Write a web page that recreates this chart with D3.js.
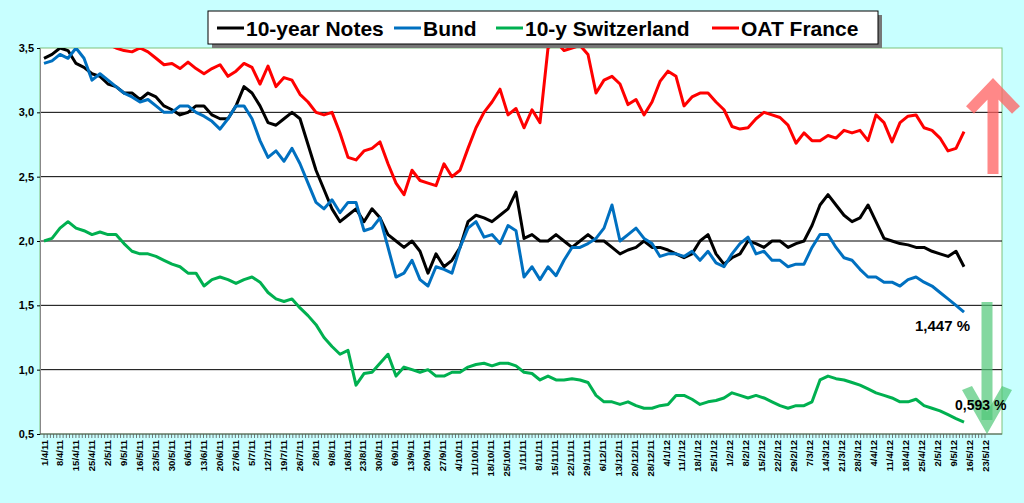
<!DOCTYPE html>
<html><head><meta charset="utf-8">
<script src="https://cdn.jsdelivr.net/npm/d3@7"></script>
<style>body{margin:0;background:#c8ffff;}svg{display:block;font-family:Arial,"Liberation Sans",sans-serif;}</style>
</head><body><svg id="c" width="1024" height="503"></svg>
<script>
// week labels on the category axis
const labels = ["1/4/11","8/4/11","15/4/11","25/4/11","2/5/11","9/5/11","16/5/11","23/5/11","30/5/11","6/6/11","13/6/11","20/6/11","27/6/11","5/7/11","12/7/11","19/7/11","26/7/11","2/8/11","9/8/11","16/8/11","23/8/11","30/8/11","6/9/11","13/9/11","20/9/11","27/9/11","4/10/11","11/10/11","18/10/11","25/10/11","1/11/11","8/11/11","15/11/11","22/11/11","29/11/11","6/12/11","13/12/11","20/12/11","28/12/11","4/1/12","11/1/12","18/1/12","25/1/12","1/2/12","8/2/12","15/2/12","22/2/12","29/2/12","7/3/12","14/3/12","21/3/12","28/3/12","4/4/12","11/4/12","18/4/12","25/4/12","2/5/12","9/5/12","16/5/12","23/5/12"];
const yTicks = [0.5, 1.0, 1.5, 2.0, 2.5, 3.0, 3.5];

// yields, two readings per week
const notes = [3.42,3.45,3.5,3.48,3.38,3.35,3.30,3.28,3.22,3.20,3.15,3.15,3.10,3.15,3.12,3.05,3.02,2.98,3.0,3.05,3.05,2.98,2.95,2.95,3.05,3.20,3.15,3.05,2.92,2.90,2.95,3.0,2.95,2.75,2.55,2.40,2.25,2.15,2.20,2.25,2.15,2.25,2.18,2.05,2.0,1.95,2.0,1.92,1.75,1.90,1.80,1.85,1.95,2.15,2.20,2.18,2.15,2.20,2.25,2.38,2.02,2.05,2.0,2.0,2.05,2.0,1.95,2.0,2.05,2.0,2.0,1.95,1.90,1.93,1.95,2.0,1.95,1.95,1.93,1.90,1.87,1.90,2.0,2.05,1.90,1.82,1.87,1.90,2.0,1.98,1.95,2.0,2.0,1.95,1.98,2.0,2.12,2.28,2.36,2.28,2.20,2.15,2.18,2.28,2.15,2.02,2.0,1.98,1.97,1.95,1.95,1.92,1.90,1.88,1.92,1.80];
const bund = [3.38,3.40,3.45,3.42,3.50,3.42,3.25,3.30,3.25,3.20,3.15,3.12,3.08,3.10,3.05,3.0,3.0,3.05,3.05,3.0,2.97,2.93,2.87,2.95,3.05,3.05,2.95,2.78,2.65,2.70,2.62,2.72,2.60,2.45,2.30,2.25,2.32,2.22,2.30,2.30,2.08,2.10,2.18,1.95,1.72,1.75,1.85,1.70,1.65,1.80,1.78,1.75,1.95,2.10,2.15,2.03,2.05,1.98,2.12,2.08,1.72,1.80,1.70,1.80,1.73,1.85,1.95,1.95,1.98,2.02,2.10,2.28,2.00,2.05,2.10,2.02,1.98,1.88,1.90,1.90,1.88,1.92,1.85,1.92,1.83,1.80,1.90,1.98,2.03,1.90,1.92,1.85,1.85,1.80,1.82,1.82,1.95,2.05,2.05,1.95,1.87,1.85,1.78,1.72,1.72,1.68,1.68,1.65,1.70,1.72,1.68,1.65,1.60,1.55,1.50,1.447];
const swiss = [2.0,2.02,2.10,2.15,2.10,2.08,2.05,2.07,2.05,2.05,1.98,1.92,1.90,1.90,1.88,1.85,1.82,1.80,1.75,1.75,1.65,1.70,1.72,1.70,1.67,1.70,1.72,1.68,1.60,1.55,1.53,1.55,1.48,1.42,1.35,1.25,1.18,1.12,1.15,0.88,0.97,0.98,1.05,1.12,0.95,1.02,1.0,0.98,1.0,0.95,0.95,0.98,0.98,1.02,1.04,1.05,1.03,1.05,1.05,1.03,0.98,0.97,0.92,0.95,0.92,0.92,0.93,0.92,0.90,0.80,0.75,0.75,0.73,0.75,0.72,0.70,0.70,0.72,0.73,0.80,0.80,0.77,0.73,0.75,0.76,0.78,0.82,0.80,0.78,0.80,0.78,0.75,0.72,0.70,0.72,0.72,0.75,0.92,0.95,0.93,0.92,0.90,0.88,0.85,0.82,0.80,0.78,0.75,0.75,0.77,0.72,0.70,0.68,0.65,0.62,0.593];
const oat = [3.6,3.62,3.65,3.62,3.6,3.58,3.6,3.55,3.53,3.5,3.48,3.47,3.5,3.47,3.42,3.37,3.38,3.34,3.39,3.34,3.3,3.34,3.37,3.28,3.32,3.38,3.35,3.22,3.36,3.2,3.27,3.25,3.14,3.08,3.0,2.98,3.0,2.84,2.65,2.63,2.7,2.72,2.77,2.6,2.45,2.36,2.55,2.47,2.45,2.43,2.6,2.5,2.55,2.72,2.88,3.0,3.08,3.18,2.98,3.03,2.88,3.02,2.92,3.5,3.55,3.48,3.5,3.52,3.45,3.15,3.25,3.28,3.22,3.06,3.10,2.98,3.08,3.24,3.32,3.28,3.05,3.12,3.15,3.15,3.08,3.02,2.89,2.87,2.88,2.95,3.0,2.98,2.96,2.9,2.76,2.84,2.78,2.78,2.82,2.8,2.86,2.84,2.86,2.78,2.98,2.92,2.77,2.92,2.97,2.98,2.88,2.86,2.8,2.7,2.72,2.85];

const series = [
  {name: "10-year Notes", values: notes, color: "#000000"},
  {name: "Bund", values: bund, color: "#0070c0"},
  {name: "10-y Switzerland", values: swiss, color: "#00b050"},
  {name: "OAT France", values: oat, color: "#ff0000"}
];

const svg = d3.select("#c");
const mLeft = 40, mRight = 1002, mTop = 48, mBottom = 434;

const x = d3.scaleLinear().domain([0, labels.length - 1]).range([44, 985]);
const y = d3.scaleLinear().domain([0.5, 3.5]).range([mBottom, mTop]);

svg.append("rect").attr("x", mLeft).attr("y", mTop).attr("width", mRight - mLeft).attr("height", mBottom - mTop)
  .attr("fill", "#fff").attr("stroke", "#7cc47c");

svg.append("clipPath").attr("id", "clip").append("rect")
  .attr("x", mLeft).attr("y", mTop).attr("width", mRight - mLeft).attr("height", mBottom - mTop);

// grid
svg.append("g").selectAll("line").data(yTicks.slice(1, -1)).enter().append("line")
  .attr("x1", mLeft).attr("x2", mRight).attr("y1", d => y(d)).attr("y2", d => y(d))
  .attr("stroke", "#000").attr("stroke-width", 1);

// y axis
const yAxis = svg.append("g").attr("transform", "translate(" + mLeft + ",0)")
  .call(d3.axisLeft(y).tickValues(yTicks).tickSize(3).tickFormat(d => d3.format(".1f")(d).replace(".", ",")));
yAxis.select(".domain").attr("stroke", "#888");
yAxis.selectAll("text").attr("font-size", 11).attr("font-weight", "bold").attr("fill", "#000");

// x axis with daily minor ticks
const days = d3.range(0, labels.length - 1 + 0.01, 0.2);
svg.append("g").selectAll("line").data(days).enter().append("line")
  .attr("x1", d => x(d)).attr("x2", d => x(d)).attr("y1", mBottom).attr("y2", mBottom + 4)
  .attr("stroke", "#555").attr("stroke-width", 0.8);
svg.append("line").attr("x1", mLeft).attr("x2", mRight).attr("y1", mBottom).attr("y2", mBottom).attr("stroke", "#555");
svg.append("g").selectAll("text").data(labels).enter().append("text")
  .attr("transform", (d, i) => "translate(" + (x(i) + 3.5) + "," + (mBottom + 6) + ") rotate(-90)")
  .attr("text-anchor", "end").attr("font-size", 9.5).attr("font-weight", "bold").text(d => d);

// lines
const line = d3.line().x((d, i) => x(i * 0.5016)).y(d => y(d));
svg.append("g").attr("clip-path", "url(#clip)").selectAll("path").data(series).enter().append("path")
  .attr("d", d => line(d.values)).attr("fill", "none").attr("stroke", d => d.color)
  .attr("stroke-width", 3).attr("stroke-linejoin", "round");

// arrows
svg.append("path").attr("d", "M993,174 L993,92 M970,110 L993,86 L1016,110")
  .attr("fill", "none").attr("stroke", "#ff6060").attr("stroke-opacity", 0.75).attr("stroke-width", 11);
svg.append("path").attr("d", "M987,302 L987,420")
  .attr("fill", "none").attr("stroke", "#50c878").attr("stroke-opacity", 0.7).attr("stroke-width", 11);
svg.append("path").attr("d", "M962,390 L972,386 L987,412 L1002,386 L1012,390 L987,434 Z")
  .attr("fill", "#50c878").attr("fill-opacity", 0.7);

svg.append("text").attr("x", 915).attr("y", 331).attr("font-size", 15).attr("font-weight", "bold").text("1,447 %");
svg.append("text").attr("x", 955).attr("y", 410).attr("font-size", 14).attr("font-weight", "bold").text("0,593 %");

// legend
const lg = svg.append("g");
lg.append("rect").attr("x", 212).attr("y", 15).attr("width", 670).attr("height", 33).attr("fill", "#777");
lg.append("rect").attr("x", 208).attr("y", 11).attr("width", 670).attr("height", 33).attr("fill", "#fff").attr("stroke", "#000");
const lx = [217, 394, 496, 712];
series.forEach((s, i) => {
  lg.append("line").attr("x1", lx[i]).attr("x2", lx[i] + 27).attr("y1", 28).attr("y2", 28)
    .attr("stroke", s.color).attr("stroke-width", 3);
  lg.append("text").attr("x", lx[i] + 29).attr("y", 36).attr("font-size", 21).attr("font-weight", "bold").text(s.name);
});
</script></body></html>
